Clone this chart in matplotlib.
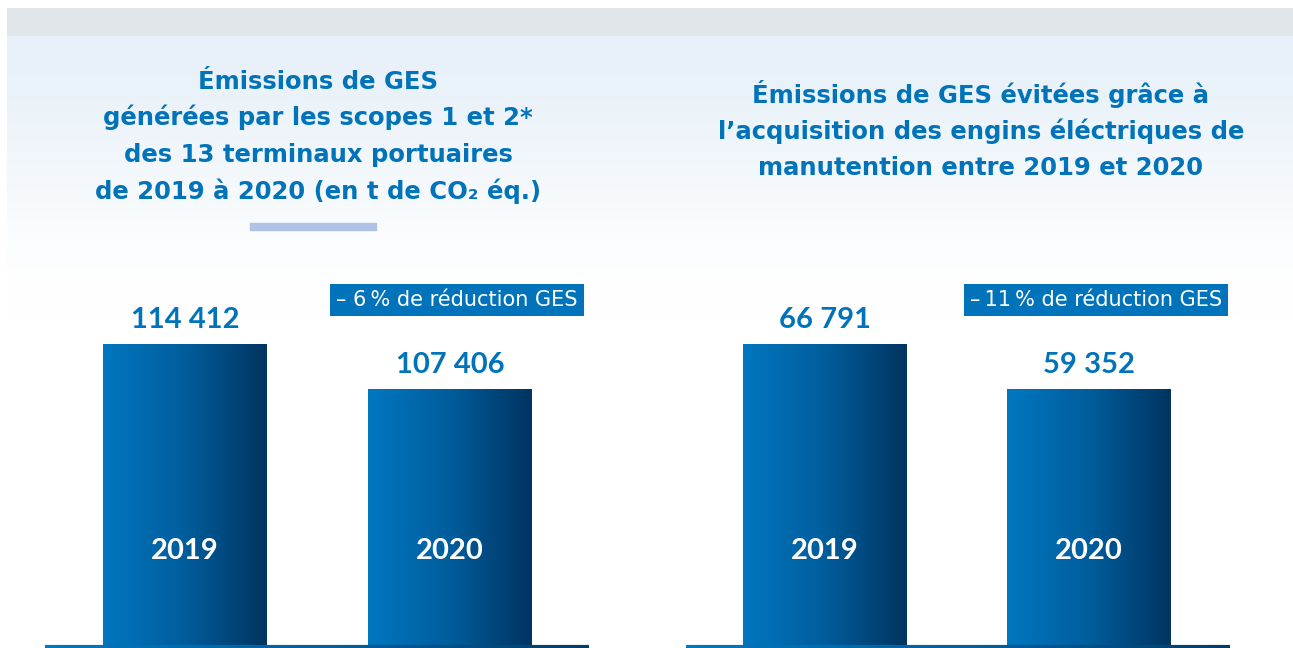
import matplotlib.pyplot as plt
import numpy as np
from matplotlib.colors import LinearSegmentedColormap, to_rgb
from matplotlib.collections import LineCollection

# data
years = ['2019', '2020']
emissions = [114412, 107406]
avoided = [66791, 59352]
badges = ['\u2013 6\u202f% de réduction GES', '\u2013\u202f11\u202f% de réduction GES']
left_title = ['Émissions de GES', 'générées par les scopes 1 et 2*',
              'des 13 terminaux portuaires', 'de 2019 à 2020 (en t de CO\u2082 éq.)']
right_title = ['Émissions de GES évitées grâce à',
               'l\u2019acquisition des engins éléctriques de',
               'manutention entre 2019 et 2020']

W, H = 1293, 648
BLUE = '#0073b9'
bar_cmap = LinearSegmentedColormap.from_list('bar', ['#0077c0', '#005d9c', '#003461'])
NUM = ['Lato', 'DejaVu Sans']
WIDE = ['DejaVu Sans']

fig = plt.figure(figsize=(W / 100, H / 100), dpi=100)

# background: grey band on top, light blue fading to white
bg = fig.add_axes([0, 0, 1, 1])
img = np.ones((H, W, 3))
img[8:36, 7:] = to_rgb('#e1e6ea')
top = np.array(to_rgb('#e8f1f9'))
rows = np.clip((np.arange(H) - 36) / 280, 0, 1)
rows = 0.5 - 0.5 * np.cos(np.pi * rows)
grad = top[None, :] * (1 - rows[:, None]) + rows[:, None]
img[36:, 7:] = grad[36:, None, :]
bg.imshow(img, extent=[0, W, H, 0], aspect='auto', interpolation='bilinear')
bg.set_xlim(0, W)
bg.set_ylim(H, 0)
bg.axis('off')


def fx(px):
    return px / W


def fy(py):
    return 1 - py / H


# titles
for i, line in enumerate(left_title):
    fig.text(fx(318), fy(89 + 36.5 * i), line, ha='center', va='baseline',
             color=BLUE, fontsize=17.5, fontweight='bold', family=WIDE)
for i, line in enumerate(right_title):
    fig.text(fx(981), fy(103 + 36 * i), line, ha='center', va='baseline',
             color=BLUE, fontsize=17.5, fontweight='bold', family=WIDE)
fig.patches.append(plt.Rectangle((fx(250), fy(230)), fx(126), 7 / H,
                                 transform=fig.transFigure, color='#aec3e6'))


def panel(left_px, right_px, centers_px, values, badge):
    x0, x1 = left_px, right_px
    step = centers_px[1] - centers_px[0]
    ax = fig.add_axes([fx(x0), fy(645), fx(x1 - x0), 301 / H])
    xs = np.arange(len(values))
    bars = ax.bar(xs, values, width=164 / step, facecolor='none', edgecolor='none')
    vmax, vmin = max(values), min(values)
    low = vmax - (vmax - vmin) * 301 / 45
    gradient = np.linspace(0, 1, 256)[None, :]
    for b in bars:
        im = ax.imshow(gradient, cmap=bar_cmap, aspect='auto',
                       extent=[b.get_x(), b.get_x() + b.get_width(), low, b.get_height()])
        im.set_clip_path(b)
    for x, v, yr in zip(xs, values, years):
        ax.annotate(f'{v:,}'.replace(',', '\u202f'), (x, v), xytext=(0, 24),
                    textcoords='offset pixels', ha='center', va='center',
                    color=BLUE, fontsize=21, fontweight='bold', family=NUM)
        ax.text(x, 0.312, yr, transform=ax.get_xaxis_transform(), ha='center',
                va='center', color='white', fontsize=21, fontweight='bold', family=NUM)
    ax.annotate(badge, (1, 1.146), xycoords=ax.get_xaxis_transform(),
                xytext=(7, 0), textcoords='offset pixels', ha='center', va='center',
                color='white', fontsize=15, family=WIDE, annotation_clip=False,
                bbox=dict(boxstyle='square,pad=0.3', fc='#0073bb', ec='none'))
    ax.set_xlim((x0 - centers_px[0]) / step, (x1 - centers_px[0]) / step)
    ax.set_ylim(low, vmax)
    ax.axis('off')
    # gradient baseline
    t = np.linspace(0, 1, 200)
    segs = [[(a, -0.006), (b, -0.006)] for a, b in zip(t[:-1], t[1:])]
    lc = LineCollection(segs, colors=bar_cmap(t[:-1] * 0.9), linewidths=3,
                        transform=ax.transAxes, clip_on=False)
    ax.add_collection(lc)
    return ax


panel(45, 589, [185, 450], emissions, badges[0])
panel(686, 1230, [825, 1089], avoided, badges[1])

fig.savefig('out.png', dpi=100)
